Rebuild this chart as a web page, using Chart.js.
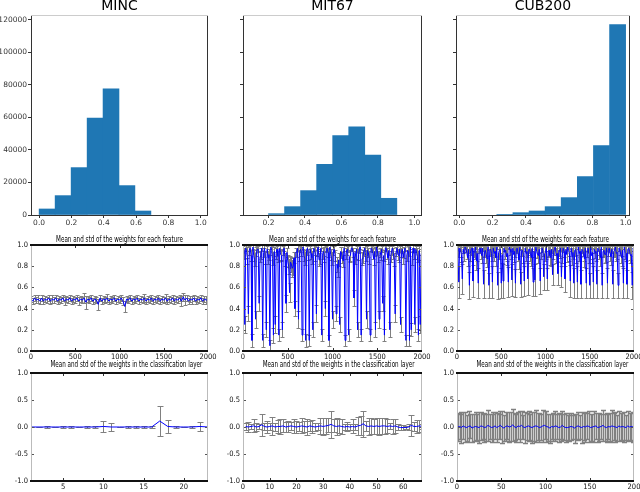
<!DOCTYPE html>
<html>
<head>
<meta charset="utf-8">
<script src="https://cdn.jsdelivr.net/npm/chart.js@4.4.1/dist/chart.umd.min.js"></script>
<style>
  html, body { margin: 0; padding: 0; background: #fff; }
  body { width: 640px; height: 492px; position: relative; overflow: hidden; }
  canvas { position: absolute; }
  .t { position: absolute; text-align: center; white-space: nowrap; color: #000; }
  .big { font-family: 'DejaVu Sans', sans-serif; font-size: 14px; line-height: 14px; }
  .small { font-family: 'Liberation Sans Narrow', 'DejaVu Sans Condensed', sans-serif; font-size: 8px; line-height: 8px; color: #000;
           transform: scaleX(0.78); transform-origin: center; }
</style>
</head>
<body>
<script>
// ---- histogram data (weights per dataset) ----
const datasetNames = ['MINC', 'MIT67', 'CUB200'];
const histTicksY = [0, 20000, 40000, 60000, 80000, 100000, 120000];

const mincEdges = [0.0, 0.099, 0.198, 0.297, 0.396, 0.494, 0.593, 0.692];
const mincCounts = [3700, 11900, 29100, 59500, 77500, 18050, 2460];

const mit67Edges = [0.200, 0.288, 0.376, 0.464, 0.552, 0.640, 0.728, 0.816, 0.904];
const mit67Counts = [820, 5130, 14970, 31180, 48820, 54150, 36720, 10260];

const cubEdges = [0.225, 0.322, 0.419, 0.516, 0.612, 0.709, 0.806, 0.903, 1.0];
const cubCounts = [410, 1440, 2460, 5130, 10670, 23590, 42670, 116920];

// ---- mean / std of the weights for each feature (sampled feature indices) ----
const featureIdx = [
  0, 20, 40, 60, 80, 100, 120, 140, 160, 180,
  200, 220, 240, 260, 280, 300, 320, 340, 360, 380,
  400, 420, 440, 460, 480, 500, 520, 540, 560, 580,
  600, 620, 640, 660, 680, 700, 720, 740, 760, 780,
  800, 820, 840, 860, 880, 900, 920, 940, 960, 980,
  1000, 1020, 1040, 1060, 1080, 1100, 1120, 1140, 1160, 1180,
  1200, 1220, 1240, 1260, 1280, 1300, 1320, 1340, 1360, 1380,
  1400, 1420, 1440, 1460, 1480, 1500, 1520, 1540, 1560, 1580,
  1600, 1620, 1640, 1660, 1680, 1700, 1720, 1740, 1760, 1780,
  1800, 1820, 1840, 1860, 1880, 1900, 1920, 1940, 1960, 1980,
  2000
];
const featureIdxFine = [
  0, 10, 20, 30, 40, 50, 60, 70, 80, 90, 100, 110, 120, 130, 140, 150, 160, 170, 180, 190,
  200, 210, 220, 230, 240, 250, 260, 270, 280, 290, 300, 310, 320, 330, 340, 350, 360, 370, 380, 390,
  400, 410, 420, 430, 440, 450, 460, 470, 480, 490, 500, 510, 520, 530, 540, 550, 560, 570, 580, 590,
  600, 610, 620, 630, 640, 650, 660, 670, 680, 690, 700, 710, 720, 730, 740, 750, 760, 770, 780, 790,
  800, 810, 820, 830, 840, 850, 860, 870, 880, 890, 900, 910, 920, 930, 940, 950, 960, 970, 980, 990,
  1000, 1010, 1020, 1030, 1040, 1050, 1060, 1070, 1080, 1090, 1100, 1110, 1120, 1130, 1140, 1150, 1160, 1170, 1180, 1190,
  1200, 1210, 1220, 1230, 1240, 1250, 1260, 1270, 1280, 1290, 1300, 1310, 1320, 1330, 1340, 1350, 1360, 1370, 1380, 1390,
  1400, 1410, 1420, 1430, 1440, 1450, 1460, 1470, 1480, 1490, 1500, 1510, 1520, 1530, 1540, 1550, 1560, 1570, 1580, 1590,
  1600, 1610, 1620, 1630, 1640, 1650, 1660, 1670, 1680, 1690, 1700, 1710, 1720, 1730, 1740, 1750, 1760, 1770, 1780, 1790,
  1800, 1810, 1820, 1830, 1840, 1850, 1860, 1870, 1880, 1890, 1900, 1910, 1920, 1930, 1940, 1950, 1960, 1970, 1980, 1990,
  2000
];

const mincFeatMean = [
  0.49, 0.47, 0.50, 0.48, 0.49, 0.47, 0.50, 0.47, 0.49, 0.48,
  0.50, 0.47, 0.49, 0.48, 0.50, 0.47, 0.49, 0.48, 0.50, 0.47,
  0.49, 0.48, 0.50, 0.47, 0.49, 0.48, 0.50, 0.47, 0.49, 0.48,
  0.50, 0.46, 0.49, 0.48, 0.50, 0.47, 0.49, 0.48, 0.44, 0.50,
  0.47, 0.49, 0.48, 0.50, 0.47, 0.49, 0.48, 0.50, 0.47, 0.49,
  0.48, 0.50, 0.47, 0.42, 0.49, 0.48, 0.50, 0.47, 0.49, 0.48,
  0.50, 0.47, 0.49, 0.48, 0.50, 0.47, 0.49, 0.48, 0.50, 0.47,
  0.49, 0.48, 0.50, 0.47, 0.49, 0.48, 0.50, 0.47, 0.49, 0.48,
  0.50, 0.47, 0.49, 0.48, 0.50, 0.47, 0.51, 0.48, 0.50, 0.47,
  0.49, 0.48, 0.50, 0.47, 0.49, 0.48, 0.50, 0.47, 0.49, 0.48,
  0.49
];
const mincFeatStd = [
  0.03, 0.03, 0.03, 0.03, 0.04, 0.03, 0.03, 0.03, 0.03, 0.03,
  0.03, 0.03, 0.04, 0.03, 0.03, 0.03, 0.03, 0.03, 0.03, 0.04,
  0.03, 0.03, 0.03, 0.03, 0.03, 0.03, 0.03, 0.04, 0.03, 0.03,
  0.05, 0.06, 0.03, 0.03, 0.03, 0.03, 0.03, 0.03, 0.05, 0.03,
  0.03, 0.03, 0.03, 0.04, 0.03, 0.03, 0.03, 0.03, 0.03, 0.03,
  0.03, 0.03, 0.04, 0.05, 0.03, 0.03, 0.03, 0.03, 0.03, 0.03,
  0.03, 0.03, 0.03, 0.03, 0.04, 0.03, 0.03, 0.03, 0.03, 0.03,
  0.03, 0.03, 0.03, 0.03, 0.03, 0.03, 0.04, 0.03, 0.03, 0.03,
  0.03, 0.03, 0.03, 0.03, 0.03, 0.05, 0.04, 0.05, 0.03, 0.03,
  0.03, 0.04, 0.03, 0.03, 0.03, 0.03, 0.03, 0.03, 0.03, 0.04,
  0.03
];

const mit67FeatMean = [
  0.95, 0.92, 0.25, 0.97, 0.93, 0.88, 0.35, 0.95, 0.97, 0.90, 0.10, 0.98, 0.90, 0.86, 0.30, 0.94, 0.96, 0.96, 0.45, 0.89,
  0.92, 0.97, 0.10, 0.93, 0.97, 0.88, 0.20, 0.96, 0.88, 0.91, 0.05, 0.98, 0.95, 0.87, 0.15, 0.94, 0.25, 0.92, 0.96, 0.89,
  0.15, 0.97, 0.91, 0.90, 0.20, 0.95, 0.97, 0.86, 0.45, 0.93, 0.85, 0.80, 0.55, 0.84, 0.82, 0.78, 0.80, 0.88, 0.40, 0.93,
  0.93, 0.97, 0.30, 0.90, 0.96, 0.94, 0.15, 0.98, 0.90, 0.87, 0.10, 0.95, 0.97, 0.91, 0.10, 0.96, 0.92, 0.88, 0.20, 0.97,
  0.95, 0.90, 0.35, 0.94, 0.98, 0.86, 0.88, 0.97, 0.15, 0.92, 0.94, 0.89, 0.40, 0.96, 0.97, 0.93, 0.10, 0.98, 0.91, 0.87,
  0.30, 0.95, 0.96, 0.90, 0.35, 0.82, 0.78, 0.86, 0.25, 0.94, 0.93, 0.88, 0.85, 0.97, 0.10, 0.92, 0.95, 0.96, 0.15, 0.89,
  0.90, 0.97, 0.97, 0.93, 0.50, 0.88, 0.92, 0.96, 0.20, 0.91, 0.96, 0.98, 0.15, 0.87, 0.89, 0.94, 0.97, 0.90, 0.30, 0.95,
  0.93, 0.88, 0.15, 0.97, 0.96, 0.92, 0.87, 0.94, 0.20, 0.98, 0.95, 0.89, 0.30, 0.93, 0.91, 0.96, 0.45, 0.90, 0.15, 0.97,
  0.97, 0.92, 0.88, 0.95, 0.20, 0.89, 0.95, 0.97, 0.92, 0.86, 0.35, 0.94, 0.97, 0.91, 0.90, 0.96, 0.25, 0.93, 0.96, 0.88,
  0.93, 0.97, 0.10, 0.90, 0.95, 0.94, 0.10, 0.98, 0.20, 0.87, 0.97, 0.92, 0.25, 0.96, 0.92, 0.89, 0.15, 0.95, 0.25, 0.91,
  0.95
];
const mit67FeatStd = [
  0.04, 0.05, 0.08, 0.03, 0.05, 0.06, 0.07, 0.04, 0.03, 0.05, 0.06, 0.02, 0.05, 0.06, 0.08, 0.04, 0.03, 0.03, 0.07, 0.05,
  0.05, 0.03, 0.06, 0.04, 0.03, 0.06, 0.07, 0.03, 0.06, 0.05, 0.05, 0.02, 0.04, 0.06, 0.07, 0.04, 0.08, 0.05, 0.03, 0.05,
  0.06, 0.03, 0.05, 0.05, 0.07, 0.04, 0.03, 0.06, 0.08, 0.04, 0.06, 0.07, 0.09, 0.06, 0.07, 0.08, 0.08, 0.05, 0.07, 0.04,
  0.04, 0.03, 0.08, 0.05, 0.03, 0.04, 0.06, 0.02, 0.05, 0.06, 0.06, 0.04, 0.03, 0.05, 0.05, 0.03, 0.05, 0.06, 0.07, 0.03,
  0.04, 0.05, 0.08, 0.04, 0.02, 0.06, 0.06, 0.03, 0.06, 0.05, 0.04, 0.05, 0.07, 0.03, 0.03, 0.04, 0.05, 0.02, 0.05, 0.06,
  0.08, 0.04, 0.03, 0.05, 0.07, 0.07, 0.08, 0.06, 0.07, 0.04, 0.05, 0.05, 0.06, 0.03, 0.05, 0.05, 0.04, 0.03, 0.06, 0.05,
  0.05, 0.03, 0.03, 0.04, 0.08, 0.06, 0.05, 0.03, 0.07, 0.05, 0.04, 0.02, 0.06, 0.06, 0.06, 0.04, 0.03, 0.05, 0.08, 0.04,
  0.04, 0.06, 0.06, 0.03, 0.03, 0.05, 0.06, 0.04, 0.07, 0.02, 0.04, 0.05, 0.08, 0.04, 0.05, 0.03, 0.07, 0.05, 0.06, 0.03,
  0.03, 0.05, 0.06, 0.04, 0.07, 0.05, 0.04, 0.03, 0.05, 0.06, 0.08, 0.04, 0.03, 0.05, 0.06, 0.03, 0.07, 0.04, 0.04, 0.06,
  0.05, 0.03, 0.05, 0.05, 0.04, 0.04, 0.05, 0.02, 0.06, 0.06, 0.03, 0.05, 0.07, 0.03, 0.05, 0.05, 0.06, 0.04, 0.08, 0.05,
  0.04
];

const cubFeatMean = [
  0.97, 0.94, 0.65, 0.97, 0.95, 0.91, 0.68, 0.96, 0.92, 0.98, 0.97, 0.93, 0.88, 0.96, 0.62, 0.92, 0.96, 0.97, 0.66, 0.94,
  0.93, 0.98, 0.85, 0.92, 0.64, 0.96, 0.97, 0.93, 0.90, 0.97, 0.63, 0.94, 0.95, 0.91, 0.87, 0.98, 0.62, 0.95, 0.96, 0.92,
  0.65, 0.97, 0.92, 0.94, 0.88, 0.98, 0.62, 0.93, 0.95, 0.96, 0.64, 0.91, 0.66, 0.97, 0.93, 0.95, 0.89, 0.92, 0.65, 0.98,
  0.96, 0.93, 0.67, 0.97, 0.91, 0.94, 0.64, 0.96, 0.97, 0.92, 0.86, 0.98, 0.63, 0.95, 0.95, 0.91, 0.66, 0.97, 0.92, 0.94,
  0.68, 0.96, 0.96, 0.92, 0.88, 0.97, 0.65, 0.94, 0.67, 0.98, 0.94, 0.91, 0.90, 0.96, 0.66, 0.93, 0.97, 0.95, 0.70, 0.92,
  0.93, 0.97, 0.68, 0.94, 0.95, 0.90, 0.88, 0.96, 0.72, 0.93, 0.96, 0.98, 0.90, 0.92, 0.73, 0.95, 0.94, 0.97, 0.70, 0.91,
  0.97, 0.94, 0.68, 0.96, 0.91, 0.98, 0.95, 0.92, 0.66, 0.97, 0.89, 0.93, 0.64, 0.95, 0.96, 0.91, 0.65, 0.98, 0.92, 0.94,
  0.63, 0.96, 0.95, 0.92, 0.87, 0.97, 0.64, 0.94, 0.97, 0.91, 0.62, 0.98, 0.90, 0.93, 0.65, 0.96, 0.94, 0.92, 0.63, 0.97,
  0.96, 0.93, 0.88, 0.98, 0.62, 0.94, 0.95, 0.91, 0.91, 0.97, 0.64, 0.95, 0.97, 0.92, 0.89, 0.96, 0.63, 0.94, 0.95, 0.98,
  0.92, 0.93, 0.62, 0.97, 0.96, 0.91, 0.88, 0.95, 0.64, 0.98, 0.93, 0.92, 0.63, 0.96, 0.97, 0.94, 0.90, 0.91, 0.62, 0.97,
  0.95
];
const cubFeatStd = [
  0.04, 0.05, 0.15, 0.03, 0.06, 0.07, 0.14, 0.04, 0.07, 0.02, 0.04, 0.06, 0.08, 0.04, 0.13, 0.07, 0.05, 0.03, 0.15, 0.05,
  0.06, 0.02, 0.09, 0.07, 0.14, 0.04, 0.04, 0.06, 0.07, 0.03, 0.13, 0.05, 0.05, 0.08, 0.08, 0.02, 0.12, 0.05, 0.05, 0.07,
  0.15, 0.03, 0.07, 0.05, 0.08, 0.02, 0.13, 0.06, 0.05, 0.04, 0.14, 0.08, 0.16, 0.03, 0.06, 0.05, 0.08, 0.07, 0.14, 0.02,
  0.05, 0.06, 0.15, 0.03, 0.07, 0.05, 0.13, 0.04, 0.04, 0.07, 0.09, 0.02, 0.12, 0.05, 0.05, 0.08, 0.14, 0.03, 0.07, 0.05,
  0.15, 0.04, 0.05, 0.07, 0.08, 0.03, 0.13, 0.05, 0.15, 0.02, 0.06, 0.08, 0.07, 0.04, 0.12, 0.06, 0.04, 0.05, 0.12, 0.07,
  0.06, 0.03, 0.10, 0.05, 0.05, 0.09, 0.08, 0.04, 0.10, 0.06, 0.05, 0.02, 0.07, 0.07, 0.11, 0.05, 0.06, 0.03, 0.10, 0.08,
  0.04, 0.05, 0.12, 0.04, 0.07, 0.02, 0.05, 0.07, 0.15, 0.03, 0.08, 0.06, 0.14, 0.05, 0.05, 0.08, 0.15, 0.02, 0.07, 0.05,
  0.13, 0.04, 0.05, 0.07, 0.08, 0.03, 0.14, 0.05, 0.04, 0.08, 0.12, 0.02, 0.07, 0.06, 0.15, 0.04, 0.06, 0.07, 0.13, 0.03,
  0.05, 0.06, 0.08, 0.02, 0.12, 0.05, 0.05, 0.08, 0.07, 0.03, 0.14, 0.05, 0.04, 0.07, 0.08, 0.04, 0.13, 0.05, 0.05, 0.02,
  0.07, 0.06, 0.12, 0.03, 0.05, 0.08, 0.08, 0.05, 0.14, 0.02, 0.06, 0.07, 0.13, 0.04, 0.04, 0.08, 0.07, 0.08, 0.13, 0.03,
  0.05
];

// ---- mean / std of the weights in the classification layer ----
const mincClassIdx = [1, 2, 3, 4, 5, 6, 7, 8, 9, 10, 11, 12, 13, 14, 15, 16, 17, 18, 19, 20, 21, 22, 23];
const mincClsMean = [0, 0, 0, 0, 0, 0, 0, 0, 0, 0.01, 0.0, 0, 0, 0, 0, 0, 0.11, 0.01, 0, 0, 0, 0.01, 0];
const mincClsStd = [0.005, 0.005, 0.015, 0.005, 0.015, 0.015, 0.005, 0.015, 0.015, 0.105, 0.073, 0.005,
  0.015, 0.015, 0.015, 0.015, 0.27, 0.127, 0.015, 0.005, 0.015, 0.08, 0.005];

const mit67ClassIdx = [
  1, 2, 3, 4, 5, 6, 7, 8, 9, 10, 11, 12, 13, 14, 15, 16, 17, 18, 19, 20,
  21, 22, 23, 24, 25, 26, 27, 28, 29, 30, 31, 32, 33, 34, 35, 36, 37, 38, 39, 40,
  41, 42, 43, 44, 45, 46, 47, 48, 49, 50, 51, 52, 53, 54, 55, 56, 57, 58, 59, 60,
  61, 62, 63, 64, 65, 66, 67
];
const mit67ClsMean = [
  0.01, 0.00, 0.01, 0.02, 0.00, 0.01, 0.04, 0.01, 0.00, 0.01,
  0.02, 0.00, 0.01, 0.01, 0.02, 0.00, 0.01, 0.02, 0.01, 0.00,
  0.01, 0.02, 0.01, 0.00, 0.02, 0.01, 0.00, 0.01, 0.02, 0.01,
  0.02, 0.03, 0.05, 0.02, 0.01, 0.02, 0.01, 0.00, 0.01, 0.00,
  0.01, 0.00, 0.02, 0.03, 0.06, 0.02, 0.01, 0.02, 0.01, 0.02,
  0.01, 0.02, 0.02, 0.01, 0.02, 0.01, 0.02, 0.00, -0.01, -0.01,
  -0.01, 0.00, 0.03, 0.01, 0.01, 0.02, 0.01
];
const mit67ClsStd = [
  0.06, 0.09, 0.05, 0.12, 0.08, 0.05, 0.20, 0.07, 0.12, 0.06,
  0.16, 0.07, 0.12, 0.14, 0.12, 0.09, 0.11, 0.08, 0.13, 0.12,
  0.09, 0.14, 0.11, 0.15, 0.10, 0.12, 0.08, 0.06, 0.15, 0.16,
  0.15, 0.13, 0.25, 0.12, 0.15, 0.13, 0.14, 0.05, 0.08, 0.06,
  0.13, 0.05, 0.16, 0.18, 0.24, 0.10, 0.15, 0.15, 0.14, 0.15,
  0.16, 0.15, 0.15, 0.13, 0.06, 0.14, 0.13, 0.05, 0.04, 0.04,
  0.03, 0.06, 0.19, 0.08, 0.12, 0.11, 0.05
];

const cubClassIdx = [
  1, 3, 5, 7, 9, 11, 13, 15, 17, 19,
  21, 23, 25, 27, 29, 31, 33, 35, 37, 39,
  41, 43, 45, 47, 49, 51, 53, 55, 57, 59,
  61, 63, 65, 67, 69, 71, 73, 75, 77, 79,
  81, 83, 85, 87, 89, 91, 93, 95, 97, 99,
  101, 103, 105, 107, 109, 111, 113, 115, 117, 119,
  121, 123, 125, 127, 129, 131, 133, 135, 137, 139,
  141, 143, 145, 147, 149, 151, 153, 155, 157, 159,
  161, 163, 165, 167, 169, 171, 173, 175, 177, 179,
  181, 183, 185, 187, 189, 191, 193, 195, 197, 199
];
const cubClsMean = [
  0.00, 0.01, -0.01, 0.02, 0.00, -0.01, 0.01, 0.02, -0.02, 0.00,
  0.01, 0.00, -0.01, 0.02, 0.01, -0.01, 0.00, 0.03, 0.01, -0.01,
  0.00, 0.02, -0.01, 0.01, 0.03, 0.00, -0.02, 0.01, 0.02, 0.00,
  0.01, 0.04, 0.00, -0.01, 0.02, 0.01, 0.03, 0.00, -0.01, 0.01,
  0.02, 0.00, -0.01, 0.01, 0.02, 0.01, -0.01, 0.00, 0.02, 0.03,
  0.01, 0.00, -0.02, 0.01, 0.00, 0.02, 0.01, -0.01, 0.00, 0.03,
  0.00, -0.01, -0.01, 0.00, 0.01, 0.00, -0.02, 0.01, 0.02, 0.00,
  -0.01, 0.01, 0.00, 0.02, 0.01, -0.01, 0.00, 0.01, 0.02, -0.01,
  0.00, 0.01, 0.03, 0.00, -0.01, 0.01, 0.00, 0.02, 0.01, 0.00,
  -0.01, 0.02, 0.00, 0.01, 0.00, -0.01, 0.02, 0.00, 0.01, 0.00
];
const cubClsStd = [
  0.26, 0.23, 0.28, 0.25, 0.27, 0.24, 0.29, 0.22, 0.26, 0.25,
  0.27, 0.24, 0.28, 0.26, 0.23, 0.27, 0.25, 0.29, 0.24, 0.26,
  0.28, 0.25, 0.27, 0.23, 0.26, 0.29, 0.24, 0.27, 0.25, 0.28,
  0.26, 0.30, 0.24, 0.27, 0.25, 0.28, 0.26, 0.23, 0.29, 0.25,
  0.27, 0.24, 0.28, 0.26, 0.30, 0.25, 0.27, 0.24, 0.29, 0.26,
  0.28, 0.25, 0.27, 0.23, 0.26, 0.28, 0.24, 0.27, 0.25, 0.26,
  0.24, 0.27, 0.23, 0.26, 0.25, 0.22, 0.27, 0.24, 0.26, 0.23,
  0.28, 0.25, 0.27, 0.24, 0.29, 0.26, 0.25, 0.28, 0.24, 0.27,
  0.26, 0.23, 0.28, 0.25, 0.27, 0.24, 0.26, 0.29, 0.25, 0.27,
  0.24, 0.28, 0.26, 0.25, 0.27, 0.23, 0.28, 0.26, 0.25, 0.27
];

const featTitle = 'Mean and std of the weights for each feature';
const clsTitle = 'Mean and std of the weights in the classification layer';

// ---- layout ----
const YW = 34, XH = 16, PT = 6, PR = 14;
const histFont = { family: "'DejaVu Sans', sans-serif", size: 7.5 };
const matFont = { family: "'Liberation Sans Narrow', 'DejaVu Sans Condensed', sans-serif", size: 7.5 };

function makeCanvas(a) {
  const c = document.createElement('canvas');
  const w = a.R - a.L + YW + PR, h = a.B - a.T + PT + XH;
  c.width = w; c.height = h;
  c.style.left = (a.L - YW) + 'px';
  c.style.top = (a.T - PT) + 'px';
  c.style.width = w + 'px';
  c.style.height = h + 'px';
  document.body.appendChild(c);
  return c;
}

function addTitle(text, a, top, cls) {
  const d = document.createElement('div');
  d.className = 't ' + cls;
  d.textContent = text;
  d.style.left = a.L + 'px';
  d.style.width = (a.R - a.L) + 'px';
  d.style.top = top + 'px';
  document.body.appendChild(d);
}

function axis(o) {
  return {
    type: 'linear', min: o.min, max: o.max, offset: false,
    grid: o.outTicks
      ? { display: true, drawOnChartArea: false, drawTicks: true, tickLength: 3, color: '#333', offset: false }
      : { display: false, drawTicks: false, tickLength: 0 },
    border: { display: false },
    ticks: {
      display: o.labels !== false, padding: o.pad, color: o.color, font: o.font,
      maxRotation: 0, autoSkip: false, callback: o.fmt
    },
    afterBuildTicks: s => { s.ticks = o.ticks.map(v => ({ value: v })); },
    afterFit: s => {
      if (s.isHorizontal()) { s.height = XH; s.paddingLeft = 0; s.paddingRight = 0; }
      else { s.width = YW; s.paddingTop = 0; s.paddingBottom = 0; }
    }
  };
}

// spines + inward ticks
function framePlugin(kind) {
  return {
    id: 'frame',
    afterDraw(chart) {
      const { ctx, chartArea: a, scales } = chart;
      const seg = (x1, y1, x2, y2, c, w) => {
        ctx.strokeStyle = c; ctx.lineWidth = w;
        ctx.beginPath(); ctx.moveTo(x1, y1); ctx.lineTo(x2, y2); ctx.stroke();
      };
      ctx.save();
      if (kind === 'hist') {
        seg(a.left + 0.5, a.top, a.left + 0.5, a.bottom + 1, '#333', 1);
        seg(a.right - 0.5, a.top, a.right - 0.5, a.bottom + 1, '#333', 1);
        seg(a.left, a.bottom + 0.5, a.right, a.bottom + 0.5, '#333', 1);
        seg(a.left, a.top + 0.5, a.right, a.top + 0.5, '#ccc', 1);
      } else {
        const x = scales.x, y = scales.y;
        x.ticks.forEach(t => {
          const px = Math.round(x.getPixelForValue(t.value)) + 0.5;
          if (px < a.left + 2 || px > a.right - 2) return;
          seg(px, a.bottom, px, a.bottom - 3, '#333', 1);
          seg(px, a.top, px, a.top + 3, '#333', 1);
        });
        y.ticks.forEach(t => {
          const py = Math.round(y.getPixelForValue(t.value)) + 0.5;
          if (py < a.top + 2 || py > a.bottom - 2) return;
          seg(a.left, py, a.left + 3, py, '#555', 1);
          seg(a.right, py, a.right - 3, py, '#555', 1);
        });
        seg(a.left + 0.5, a.top, a.left + 0.5, a.bottom, '#bbb', 1);
        seg(a.right - 0.5, a.top, a.right - 0.5, a.bottom, '#bbb', 1);
        seg(a.left - 1, a.top, a.right, a.top, '#111', 2);
        seg(a.left - 1, a.bottom, a.right, a.bottom, '#111', 2);
      }
      ctx.restore();
    }
  };
}

// gray error bars drawn from each dataset's errStd through the chart scales
const errorBarPlugin = {
  id: 'errorBars',
  beforeDatasetsDraw(chart) {
    const { ctx, chartArea: a, scales: { x, y } } = chart;
    ctx.save();
    ctx.beginPath();
    ctx.rect(a.left, a.top, a.right - a.left, a.bottom - a.top);
    ctx.clip();
    chart.data.datasets.forEach(ds => {
      if (!ds.errStd) return;
      ctx.strokeStyle = ds.errColor || '#888';
      ctx.lineWidth = ds.errWidth || 1;
      ctx.beginPath();
      ds.data.forEach((p, i) => {
        const s = ds.errStd[i];
        const px = Math.round(x.getPixelForValue(p.x)) + 0.5;
        const lo = Math.round(y.getPixelForValue(p.y - s)) + 0.5;
        const hi = Math.round(y.getPixelForValue(p.y + s)) + 0.5;
        const c = ds.errCap;
        ctx.moveTo(px, lo); ctx.lineTo(px, hi);
        ctx.moveTo(px - c, lo); ctx.lineTo(px + c, lo);
        ctx.moveTo(px - c, hi); ctx.lineTo(px + c, hi);
      });
      ctx.stroke();
    });
    ctx.restore();
  }
};

const common = {
  responsive: false, animation: false, devicePixelRatio: 1, events: [],
  layout: { padding: { left: 0, top: PT, right: PR, bottom: 0 }, autoPadding: false },
  plugins: { legend: { display: false }, tooltip: { enabled: false }, title: { display: false } }
};

function histChart(a, edges, counts, xmin, xmax, xticks, showY) {
  const bars = counts.map((c, i) => ({ x: (edges[i] + edges[i + 1]) / 2, y: c }));
  new Chart(makeCanvas(a), {
    type: 'bar',
    data: { datasets: [{ data: bars, backgroundColor: '#1f77b4', borderWidth: 0, barPercentage: 1, categoryPercentage: 1 }] },
    options: Object.assign({}, common, {
      scales: {
        x: axis({ min: xmin, max: xmax, ticks: xticks, outTicks: true, pad: 1, color: '#333', font: histFont, fmt: v => v.toFixed(1) }),
        y: axis({ min: 0, max: 122800, ticks: histTicksY, outTicks: true, pad: 1, color: '#333', font: histFont, labels: showY, fmt: v => String(v) })
      }
    }),
    plugins: [framePlugin('hist')]
  });
}

function errChart(a, xs, means, stds, o) {
  const pts = xs.map((x, i) => ({ x: x, y: means[i] }));
  new Chart(makeCanvas(a), {
    type: 'scatter',
    data: { datasets: [{
      data: pts, showLine: true, borderColor: '#0000ff', borderWidth: 1, pointRadius: 0,
      errStd: stds, errCap: o.cap, errColor: '#808080', errWidth: o.errWidth
    }] },
    options: Object.assign({}, common, {
      scales: {
        x: axis({ min: o.xmin, max: o.xmax, ticks: o.xticks, pad: 2, color: '#111', font: matFont, fmt: v => String(v) }),
        y: axis({ min: o.ymin, max: o.ymax, ticks: o.yticks, pad: 3, color: '#111', font: matFont, fmt: v => v.toFixed(1) })
      }
    }),
    plugins: [errorBarPlugin, framePlugin('mat')]
  });
}

const row1 = [{ L: 31, R: 208 }, { L: 243, R: 422 }, { L: 456, R: 630 }].map(c => Object.assign(c, { T: 15, B: 215 }));
const row2 = [{ L: 31, R: 208 }, { L: 243, R: 422 }, { L: 457, R: 634 }].map(c => Object.assign(c, { T: 245, B: 351 }));
const row3 = [{ L: 31, R: 208 }, { L: 243, R: 422 }, { L: 457, R: 634 }].map(c => Object.assign(c, { T: 373, B: 481 }));

histChart(row1[0], mincEdges, mincCounts, -0.05, 1.045, [0, 0.2, 0.4, 0.6, 0.8, 1.0], true);
histChart(row1[1], mit67Edges, mit67Counts, 0.06, 1.042, [0.2, 0.4, 0.6, 0.8, 1.0], false);
histChart(row1[2], cubEdges, cubCounts, -0.02, 1.026, [0, 0.2, 0.4, 0.6, 0.8, 1.0], false);
datasetNames.forEach((n, i) => addTitle(n, row1[i], -2, 'big'));

const featOpts = { xmin: 0, xmax: 2000, xticks: [0, 500, 1000, 1500, 2000], ymin: 0, ymax: 1, yticks: [0, 0.2, 0.4, 0.6, 0.8, 1.0], cap: 2 };
errChart(row2[0], featureIdx, mincFeatMean, mincFeatStd, featOpts);
errChart(row2[1], featureIdxFine, mit67FeatMean, mit67FeatStd, featOpts);
errChart(row2[2], featureIdxFine, cubFeatMean, cubFeatStd, featOpts);
row2.forEach(a => addTitle(featTitle, a, 235.5, 'small'));

const clsY = { ymin: -1, ymax: 1, yticks: [-1, -0.5, 0, 0.5, 1.0] };
errChart(row3[0], mincClassIdx, mincClsMean, mincClsStd, Object.assign({ xmin: 1, xmax: 23, xticks: [5, 10, 15, 20], cap: 3 }, clsY));
errChart(row3[1], mit67ClassIdx, mit67ClsMean, mit67ClsStd, Object.assign({ xmin: 0, xmax: 67, xticks: [0, 10, 20, 30, 40, 50, 60], cap: 3 }, clsY));
errChart(row3[2], cubClassIdx, cubClsMean, cubClsStd, Object.assign({ xmin: 0, xmax: 200, xticks: [0, 50, 100, 150, 200], cap: 2.5, errWidth: 1.4 }, clsY));
row3.forEach(a => addTitle(clsTitle, a, 361, 'small'));
</script>
</body>
</html>
